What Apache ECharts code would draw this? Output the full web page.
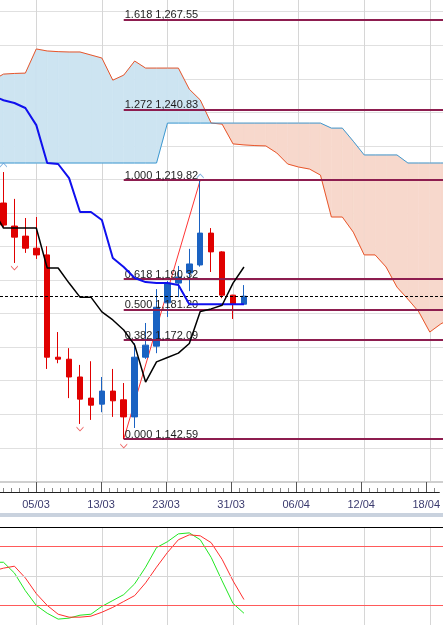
<!DOCTYPE html>
<html>
<head>
<meta charset="utf-8">
<script src="https://cdn.jsdelivr.net/npm/echarts@6/dist/echarts.min.js"></script>
<style>
html,body{margin:0;padding:0;background:#fff;}
#chart{width:443px;height:625px;}
</style>
</head>
<body>
<div id="chart"></div>
<script>
// ---------------- DATA ----------------
const xTickIndex  = [3, 9, 15, 21, 27, 33, 39];
const xTickLabels = ['05/03', '13/03', '23/03', '31/03', '06/04', '12/04', '18/04'];

// daily candles (bar index 0..22)
const opens  = [1212.97,1206.1,1203.1,1199.5,1197.5,1167.0,1166.4,1161.1,1154.8,1153.0,1156.9,1154.3,1149.2,1167.0,1170.3,1183.2,1189.1,1192.1,1194.5,1204.0,1198.4,1185.5,1182.8];
const closes = [1206.4,1202.8,1199.5,1197.5,1167.0,1166.4,1161.1,1154.5,1152.7,1156.9,1154.0,1149.2,1167.0,1170.6,1181.9,1189.1,1190.9,1194.8,1204.0,1198.4,1185.5,1182.8,1185.2];
const lows   = [1205.8,1195.1,1198.1,1196.3,1163.5,1165.2,1154.8,1147.1,1148.3,1150.6,1149.2,1142.59,1145.9,1166.5,1168.2,1179.0,1184.9,1186.7,1194.0,1192.4,1184.6,1178.4,1182.6];
const highs  = [1222.2,1214.2,1208.5,1208.8,1200.1,1174.5,1169.7,1164.7,1165.8,1161.1,1163.5,1159.3,1171.2,1177.2,1187.3,1189.7,1194.2,1199.3,1219.82,1205.5,1198.6,1185.6,1188.5];

// indicator series start one bar before the first visible candle (bar index -1)
const lineStart = -1;
// Ichimoku
const tenkan = [1245.0,1243.6,1242.8,1241.3,1236.2,1224.9,1224.6,1220.4,1210.3,1210.3,1207.9,1196.6,1193.9,1190.6,1189.4,1189.1,1189.1,1188.5,1182.8,1182.8,1182.8,1182.8,1182.8,1182.8];
const kijun  = [1211.2,1205.5,1205.5,1205.5,1205.5,1193.6,1193.6,1189.1,1184.9,1184.9,1180.5,1178.1,1175.1,1170.6,1159.6,1165.6,1166.9,1168.2,1171.1,1180.6,1181.4,1182.5,1189.1,1193.9];
const spanA  = [1249.6,1251.4,1251.6,1251.7,1258.9,1258.3,1258.1,1258.0,1258.0,1257.1,1256.2,1249.6,1251.1,1255.3,1253.2,1253.2,1253.2,1253.2,1246.9,1243.7,1236.8,1236.5,1230.6,1230.3,1230.1,1230.0,1227.9,1224.6,1223.7,1223.1,1221.3,1208.8,1208.8,1204.3,1197.5,1197.5,1193.9,1187.9,1184.3,1180.5,1174.5,1176.9,1178.7];
const spanB  = [1224.9,1224.9,1224.9,1224.9,1224.9,1224.9,1224.9,1224.9,1224.9,1224.9,1224.9,1224.9,1224.9,1224.9,1224.9,1224.9,1236.8,1236.8,1236.8,1236.8,1236.8,1236.8,1236.8,1236.8,1236.8,1236.8,1236.8,1236.8,1236.8,1236.8,1236.8,1235.3,1235.3,1231.4,1227.3,1227.3,1227.3,1227.3,1224.9,1224.9,1224.9,1224.9,1224.9];

// Fibonacci retracement (swing low bar 11 -> swing high bar 18)
const fibStart  = 11;
const fibEnd    = 18;
const fibRatios = ['1.618','1.272','1.000','0.618','0.500','0.382','0.000'];
const fibPrices = [1267.55,1240.83,1219.82,1190.32,1181.20,1172.09,1142.59];
const lastPrice = 1185.3;

// fractals
const fractalUp   = [[0, 1224.3], [18, 1221.0]];
const fractalDown = [[1, 1193.6], [7, 1145.6], [11, 1140.5]];

// stochastic (from bar index -1)
const stochK = [64,64,53,35,20,12,6,7,10,11,19,25,31,42,59,79,85,93,94,87,69,45,22,12];
const stochD = [55,58,60,48,32,20,11,8,8,9,13,18,24,30,43,59,74,87,92,91,84,67,45,26];
const stochLevels = [80, 50, 20];

// ---------------- CHART ----------------
const XMIN = -0.32, XMAX = 40.21;
const FONT = 'Liberation Sans';
const pairs = arr => arr.map((v, i) => [i + lineStart, v]);
const fmtPrice = p => {
  const s = p.toFixed(2); const [a, b] = s.split('.');
  return a.replace(/\B(?=(\d{3})+(?!\d))/g, ',') + '.' + b;
};
// minor tick positions: 8 subdivisions of each 6-bar major step
const minorTicks = [];
for (let k = -1; k < xTickIndex.length; k++) {
  const base = xTickIndex[0] + 6 * k;
  for (let j = 1; j < 8; j++) {
    const v = base + j * 0.75;
    if (v > XMIN && v < XMAX) minorTicks.push(v);
  }
}
const kumoSegs = spanA.slice(0, -1).map((a, i) => [i + lineStart, a, spanB[i], spanA[i + 1], spanB[i + 1]]);

const chart = echarts.init(document.getElementById('chart'), null, {renderer: 'canvas'});

const baseX = {type: 'value', min: XMIN, max: XMAX};

const option = {
  animation: false,
  backgroundColor: '#ffffff',
  grid: [
    {left: 0, right: 0, top: 0, height: 481.3},
    {left: 0, right: 0, top: 482, height: 10},
    {left: 0, right: 0, top: 527, height: 100}
  ],
  xAxis: [
    Object.assign({}, baseX, {gridIndex: 0,
      axisLine: {show: true, onZero: false, lineStyle: {color: '#cfcfcf', width: 2}},
      axisTick: {show: false, customValues: xTickIndex}, axisLabel: {show: false, customValues: xTickIndex},
      splitLine: {show: true, lineStyle: {color: '#d6d6d6', width: 1}}}),
    Object.assign({}, baseX, {gridIndex: 1, position: 'bottom',
      axisLine: {show: true, onZero: false, lineStyle: {color: '#222', width: 1}},
      axisTick: {show: true, inside: true, length: 10, customValues: xTickIndex, lineStyle: {color: '#555'}},
      axisLabel: {show: true, margin: 7, fontFamily: FONT, fontSize: 11, color: '#3a3a6e',
        customValues: xTickIndex,
        formatter: v => { const k = xTickIndex.indexOf(Math.round(v)); return k >= 0 ? xTickLabels[k] : ''; }},
      splitLine: {show: false}}),
    Object.assign({}, baseX, {gridIndex: 1, position: 'bottom',
      axisLine: {show: false},
      axisTick: {show: true, inside: true, length: 4, customValues: minorTicks, lineStyle: {color: '#888'}},
      axisLabel: {show: false, customValues: minorTicks},
      splitLine: {show: false}}),
    Object.assign({}, baseX, {gridIndex: 2, position: 'top',
      axisLine: {show: true, onZero: false, lineStyle: {color: '#000', width: 1}},
      axisTick: {show: false, customValues: xTickIndex}, axisLabel: {show: false, customValues: xTickIndex},
      splitLine: {show: true, lineStyle: {color: '#d6d6d6', width: 1}}})
  ],
  yAxis: [
    {gridIndex: 0, type: 'value', min: 1130, max: 1273.5, interval: 10,
      axisLine: {show: false}, axisTick: {show: false}, axisLabel: {show: false},
      splitLine: {show: true, showMaxLine: false, lineStyle: {color: '#e0e0e0'}}},
    {gridIndex: 1, type: 'value', min: 0, max: 1, show: false},
    {gridIndex: 2, type: 'value', min: 0, max: 100, show: false}
  ],
  graphic: [
    {type: 'rect', shape: {x: 0, y: 513, width: 443, height: 4}, style: {fill: '#c9d2de'}, z: 100}
  ],
  series: [
    // Kumo fill
    {type: 'custom', xAxisIndex: 0, yAxisIndex: 0, data: kumoSegs, encode: {x: 0, y: [1, 2]}, silent: true, z: 1, clip: true,
      renderItem: (params, api) => {
        const i = api.value(0), a0 = api.value(1), b0 = api.value(2), a1 = api.value(3), b1 = api.value(4);
        const d0 = a0 - b0, d1 = a1 - b1;
        const P = (x, y) => api.coord([x, y]);
        const col = d => d >= 0 ? '#cde4f1' : '#f7d8cc';
        const poly = (pts, c) => ({type: 'polygon', shape: {points: pts}, style: {fill: c, stroke: c, lineWidth: 0.6}});
        const children = [];
        if (d0 * d1 < 0) {
          const t = d0 / (d0 - d1), xc = i + t, yc = a0 + (a1 - a0) * t;
          children.push(poly([P(i, a0), P(xc, yc), P(i, b0)], col(d0)));
          children.push(poly([P(xc, yc), P(i + 1, a1), P(i + 1, b1)], col(d1)));
        } else {
          const d = Math.abs(d0) > Math.abs(d1) ? d0 : d1;
          children.push(poly([P(i, a0), P(i + 1, a1), P(i + 1, b1), P(i, b0)], col(d)));
        }
        return {type: 'group', children};
      }},
    // Kumo edges
    {type: 'line', data: pairs(spanA), symbol: 'none', lineStyle: {color: '#e8552a', width: 1}, silent: true, z: 2},
    {type: 'line', data: pairs(spanB), symbol: 'none', lineStyle: {color: '#3d98d0', width: 1}, silent: true, z: 2},
    // Candles
    {type: 'candlestick', data: opens.map((o, i) => [i, o, closes[i], lows[i], highs[i]]),
      encode: {x: 0, y: [1, 2, 3, 4]}, barWidth: 6,
      itemStyle: {color: '#1a62c2', color0: '#e00000', borderColor: '#1a62c2', borderColor0: '#e00000', borderWidth: 1}, z: 4},
    // Tenkan
    {type: 'line', data: pairs(tenkan), symbol: 'none', lineStyle: {color: '#1010ee', width: 2}, silent: true, z: 5},
    // Kijun + last price line
    {type: 'line', data: pairs(kijun), symbol: 'none', lineStyle: {color: '#000', width: 1.5}, silent: true, z: 5,
      markLine: {silent: true, symbol: ['none', 'none'], label: {show: false},
        lineStyle: {color: '#000', width: 1, type: [3, 2]}, data: [{yAxis: lastPrice}]}},
    // Fibonacci trend line + levels
    {type: 'line', data: [[fibStart, fibPrices[6]], [fibEnd, fibPrices[2]]], symbol: 'none',
      lineStyle: {color: '#ff3535', width: 1}, silent: true, z: 3,
      markLine: {silent: true, symbol: ['none', 'none'],
        lineStyle: {color: '#8d1d4f', width: 2, type: 'solid'},
        label: {show: true, position: 'insideStartTop', distance: [1, -1], fontFamily: FONT, fontSize: 11, color: '#1e1e1e'},
        data: fibPrices.map((p, k) => [
          {coord: [fibStart, p], label: {formatter: fibRatios[k] + ' ' + fmtPrice(p)}},
          {coord: [XMAX, p]}
        ])}},
    // Fractals
    {type: 'scatter', data: fractalUp, symbol: 'path://M0,4.5 L3,0 L6,4.5 L6,3 L3,-1.5 L0,3 Z', symbolSize: [7, 5],
      itemStyle: {color: '#5b9bd8'}, silent: true, z: 6},
    {type: 'scatter', data: fractalDown, symbol: 'path://M0,0 L3,4.5 L6,0 L6,1.5 L3,6 L0,1.5 Z', symbolSize: [7, 5],
      itemStyle: {color: '#e83a3a'}, silent: true, z: 6},
    // Stochastic
    {type: 'line', xAxisIndex: 3, yAxisIndex: 2, data: pairs(stochK), symbol: 'none',
      lineStyle: {color: '#22e622', width: 1}, silent: true, z: 3,
      markLine: {silent: true, symbol: ['none', 'none'], label: {show: false},
        data: stochLevels.map(v => ({yAxis: v, lineStyle: {color: v === 50 ? '#d6d6d6' : '#ff5a5a', width: 1, type: 'solid'}}))}},
    {type: 'line', xAxisIndex: 3, yAxisIndex: 2, data: pairs(stochD), symbol: 'none',
      lineStyle: {color: '#ff2e2e', width: 1}, silent: true, z: 3}
  ]
};
chart.setOption(option);
</script>
</body>
</html>
